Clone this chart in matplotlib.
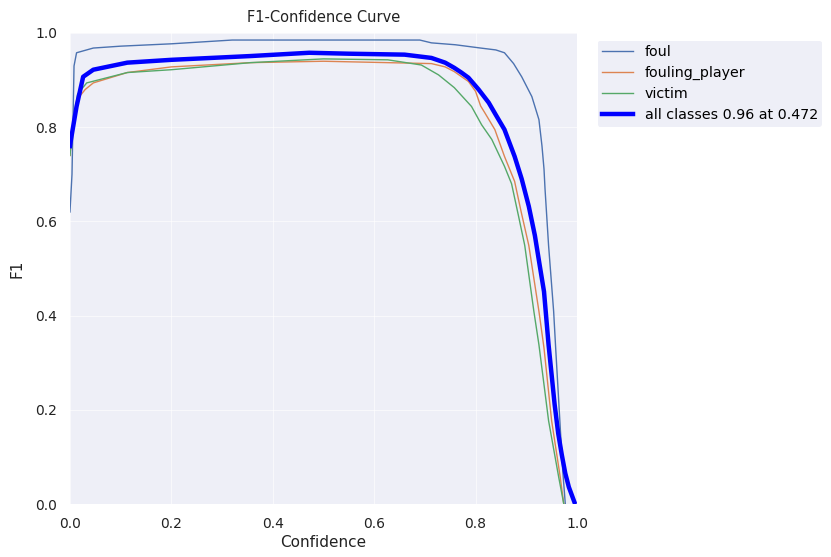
import matplotlib.pyplot as plt
import numpy as np

# confidence / F1 readings per class
foul_conf = [0.0, 0.004, 0.008, 0.013, 0.046, 0.1, 0.2, 0.32, 0.5, 0.69, 0.713, 0.76, 0.81, 0.84,
             0.857, 0.875, 0.891, 0.911, 0.925, 0.931, 0.935, 0.937, 0.944, 0.954, 0.958, 0.965,
             0.972, 0.977]
foul_f1 = [0.62, 0.70, 0.93, 0.958, 0.968, 0.972, 0.977, 0.985, 0.985, 0.985, 0.979, 0.975, 0.968,
           0.964, 0.958, 0.935, 0.907, 0.865, 0.816, 0.76, 0.711, 0.669, 0.549, 0.409, 0.331, 0.2,
           0.07, 0.0]

player_conf = [0.0, 0.005, 0.015, 0.03, 0.046, 0.113, 0.2, 0.356, 0.5, 0.627, 0.713, 0.74, 0.758,
               0.786, 0.80, 0.81, 0.818, 0.838, 0.857, 0.877, 0.89, 0.905, 0.925, 0.935, 0.95,
               0.967, 0.974]
player_f1 = [0.74, 0.80, 0.86, 0.88, 0.894, 0.916, 0.928, 0.937, 0.94, 0.937, 0.935, 0.928, 0.918,
             0.897, 0.876, 0.845, 0.831, 0.795, 0.738, 0.685, 0.62, 0.549, 0.409, 0.331, 0.177,
             0.057, 0.0]

victim_conf = [0.0, 0.005, 0.015, 0.033, 0.113, 0.2, 0.356, 0.5, 0.627, 0.693, 0.727, 0.758,
               0.792, 0.812, 0.832, 0.857, 0.871, 0.885, 0.897, 0.915, 0.925, 0.944, 0.964, 0.974]
victim_f1 = [0.74, 0.80, 0.87, 0.894, 0.916, 0.922, 0.937, 0.945, 0.943, 0.932, 0.911, 0.884,
             0.844, 0.805, 0.774, 0.717, 0.68, 0.61, 0.549, 0.409, 0.338, 0.177, 0.057, 0.0]

all_conf = [0.0, 0.002, 0.013, 0.026, 0.046, 0.113, 0.2, 0.356, 0.472, 0.55, 0.66, 0.713, 0.74,
            0.758, 0.772, 0.786, 0.806, 0.826, 0.84, 0.857, 0.877, 0.891, 0.905, 0.917, 0.926,
            0.935, 0.944, 0.956, 0.963, 0.970, 0.977, 0.984, 0.995]
all_f1 = [0.76, 0.774, 0.844, 0.907, 0.922, 0.937, 0.943, 0.951, 0.958, 0.956, 0.954, 0.947,
          0.937, 0.926, 0.916, 0.905, 0.88, 0.852, 0.826, 0.795, 0.738, 0.69, 0.632, 0.57, 0.51,
          0.451, 0.338, 0.211, 0.15, 0.105, 0.065, 0.036, 0.004]

classes = ["foul", "fouling_player", "victim"]
colors = ["#4C72B0", "#DD8452", "#55A868"]
bg = "#EEEFF7"

fig = plt.figure(figsize=(8.31, 5.57), dpi=100)
ax = fig.add_axes([0.0842, 0.0951, 0.6101, 0.8457])
ax.set_facecolor(bg)
for s in ax.spines.values():
    s.set_visible(False)
ax.grid(True, color="white", linewidth=0.8, alpha=0.6)
ax.set_axisbelow(True)

series = [(foul_conf, foul_f1), (player_conf, player_f1), (victim_conf, victim_f1)]
for (c, f), name, col in zip(series, classes, colors):
    ax.plot(c, f, linewidth=1, color=col, label=name)

best = int(np.argmax(all_f1))
ax.plot(all_conf, all_f1, linewidth=3.2, color="blue",
        label=f"all classes {all_f1[best]:.2f} at {all_conf[best]:.3f}")

ax.set_xlim(0, 1)
ax.set_ylim(0, 1)
ax.set_xticks(np.arange(0, 1.01, 0.2))
ax.set_yticks(np.arange(0, 1.01, 0.2))
ax.tick_params(length=0, labelsize=10, colors="#222222", pad=9)
ax.set_xlabel("Confidence", fontsize=11, color="#222222", labelpad=3)
ax.set_ylabel("F1", fontsize=11, color="#222222", labelpad=8)
ax.set_title("F1-Confidence Curve", fontsize=10.5, color="#222222", pad=8)

leg = ax.legend(bbox_to_anchor=(1.035, 0.99), loc="upper left", fontsize=10.3,
                frameon=True, facecolor=bg, edgecolor="none", framealpha=1,
                handlelength=2.2, borderaxespad=0.2, borderpad=0.3, labelspacing=0.5)

fig.savefig("out.png", dpi=100)
